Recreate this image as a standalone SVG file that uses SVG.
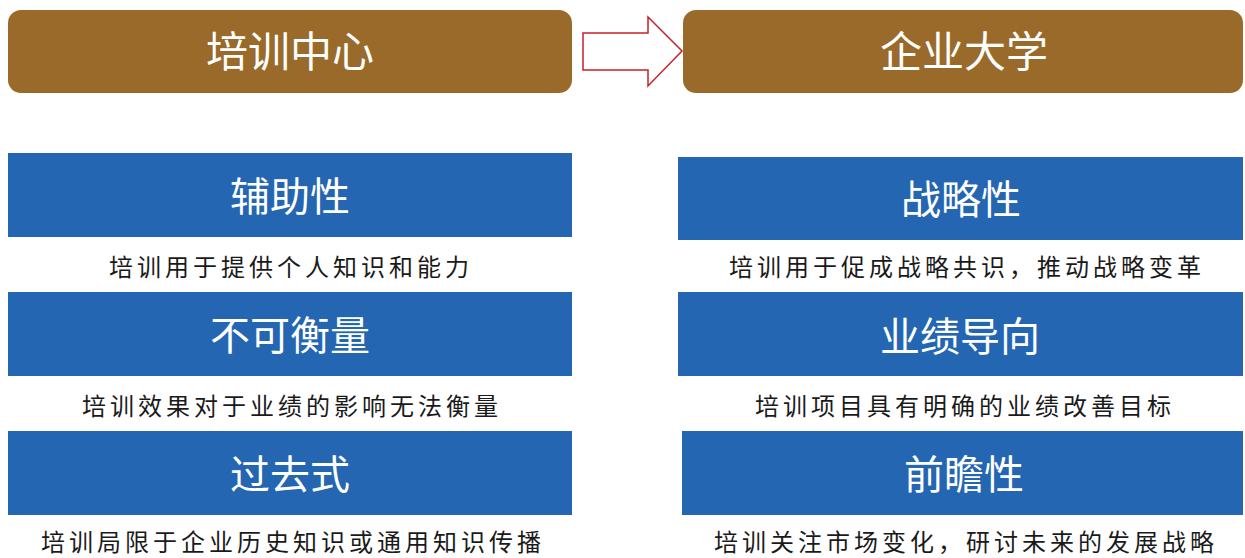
<svg xmlns="http://www.w3.org/2000/svg" width="1245" height="558" viewBox="0 0 1245 558">
  <style>
    .hdr { fill: #996A2A; }
    .blk { fill: #2466B2; }
    .ht { font-family: "Noto Sans CJK SC", "Noto Sans", sans-serif; font-size: 42px; fill: #FFFFFF; text-anchor: middle; }
    .bt { font-family: "Noto Sans CJK SC", "Noto Sans", sans-serif; font-size: 40px; fill: #FFFFFF; text-anchor: middle; }
    .dt { font-family: "Noto Sans CJK SC", "Noto Sans", sans-serif; font-size: 24px; fill: #1A1A1A; text-anchor: middle; letter-spacing: 4px; }
  </style>
  <rect width="1245" height="558" fill="#FFFFFF"/>
  <g id="header-left">
    <rect class="hdr" x="8" y="10" width="564" height="83" rx="13" ry="13"/>
    <text class="ht" x="290" y="67">培训中心</text>
  </g>
  <g id="header-right">
    <rect class="hdr" x="683" y="10" width="560" height="83" rx="13" ry="13"/>
    <text class="ht" x="964" y="67">企业大学</text>
  </g>
  <g id="connectors">
    <polygon points="583,33 648,33 648,17 682,51 648,86 648,70 583,70" fill="#FFFFFF" stroke="#C8202A" stroke-width="1.5"/>
  </g>
  <g id="left-1">
    <rect class="blk" x="8" y="153" width="564" height="84"/>
    <text class="bt" x="290" y="211">辅助性</text>
    <text class="dt" x="291" y="276">培训用于提供个人知识和能力</text>
  </g>
  <g id="left-2">
    <rect class="blk" x="8" y="292" width="564" height="84"/>
    <text class="bt" x="290" y="350">不可衡量</text>
    <text class="dt" x="292" y="415">培训效果对于业绩的影响无法衡量</text>
  </g>
  <g id="left-3">
    <rect class="blk" x="8" y="431" width="564" height="84"/>
    <text class="bt" x="290" y="489">过去式</text>
    <text class="dt" x="293" y="551">培训局限于企业历史知识或通用知识传播</text>
  </g>
  <g id="right-1">
    <rect class="blk" x="678" y="157" width="565" height="83"/>
    <text class="bt" x="961" y="214">战略性</text>
    <text class="dt" x="967" y="276">培训用于促成战略共识，推动战略变革</text>
  </g>
  <g id="right-2">
    <rect class="blk" x="678" y="292" width="565" height="84"/>
    <text class="bt" x="960" y="351">业绩导向</text>
    <text class="dt" x="965" y="415">培训项目具有明确的业绩改善目标</text>
  </g>
  <g id="right-3">
    <rect class="blk" x="682" y="431" width="561" height="84"/>
    <text class="bt" x="964" y="489">前瞻性</text>
    <text class="dt" x="966" y="551">培训关注市场变化，研讨未来的发展战略</text>
  </g>
</svg>
